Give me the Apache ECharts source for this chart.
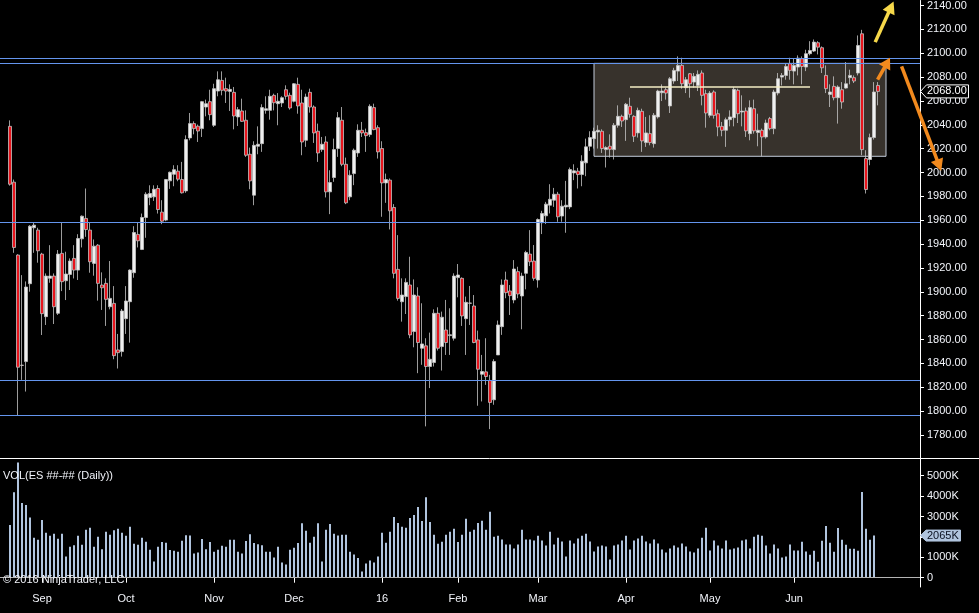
<!DOCTYPE html>
<html><head><meta charset="utf-8">
<script src="https://cdn.jsdelivr.net/npm/echarts@6/dist/echarts.min.js"></script>
<style>html,body{margin:0;padding:0;background:#000;overflow:hidden}#c{width:979px;height:613px}</style>
</head><body><div id="c"></div>
<script>
// ---- categories: trading days (ES ##-## Daily) ----
const dates = [
'2015-08-20','2015-08-21','2015-08-24','2015-08-25','2015-08-26','2015-08-27','2015-08-28','2015-08-31',
'2015-09-01','2015-09-02','2015-09-03','2015-09-04','2015-09-08','2015-09-09','2015-09-10','2015-09-11','2015-09-14','2015-09-15','2015-09-16','2015-09-17','2015-09-18','2015-09-21','2015-09-22','2015-09-23','2015-09-24','2015-09-25','2015-09-28','2015-09-29','2015-09-30',
'2015-10-01','2015-10-02','2015-10-05','2015-10-06','2015-10-07','2015-10-08','2015-10-09','2015-10-12','2015-10-13','2015-10-14','2015-10-15','2015-10-16','2015-10-19','2015-10-20','2015-10-21','2015-10-22','2015-10-23','2015-10-26','2015-10-27','2015-10-28','2015-10-29','2015-10-30',
'2015-11-02','2015-11-03','2015-11-04','2015-11-05','2015-11-06','2015-11-09','2015-11-10','2015-11-11','2015-11-12','2015-11-13','2015-11-16','2015-11-17','2015-11-18','2015-11-19','2015-11-20','2015-11-23','2015-11-24','2015-11-25','2015-11-27','2015-11-30',
'2015-12-01','2015-12-02','2015-12-03','2015-12-04','2015-12-07','2015-12-08','2015-12-09','2015-12-10','2015-12-11','2015-12-14','2015-12-15','2015-12-16','2015-12-17','2015-12-18','2015-12-21','2015-12-22','2015-12-23','2015-12-24','2015-12-28','2015-12-29','2015-12-30','2015-12-31',
'2016-01-04','2016-01-05','2016-01-06','2016-01-07','2016-01-08','2016-01-11','2016-01-12','2016-01-13','2016-01-14','2016-01-15','2016-01-19','2016-01-20','2016-01-21','2016-01-22','2016-01-25','2016-01-26','2016-01-27','2016-01-28','2016-01-29',
'2016-02-01','2016-02-02','2016-02-03','2016-02-04','2016-02-05','2016-02-08','2016-02-09','2016-02-10','2016-02-11','2016-02-12','2016-02-16','2016-02-17','2016-02-18','2016-02-19','2016-02-22','2016-02-23','2016-02-24','2016-02-25','2016-02-26','2016-02-29',
'2016-03-01','2016-03-02','2016-03-03','2016-03-04','2016-03-07','2016-03-08','2016-03-09','2016-03-10','2016-03-11','2016-03-14','2016-03-15','2016-03-16','2016-03-17','2016-03-18','2016-03-21','2016-03-22','2016-03-23','2016-03-24','2016-03-28','2016-03-29','2016-03-30','2016-03-31',
'2016-04-01','2016-04-04','2016-04-05','2016-04-06','2016-04-07','2016-04-08','2016-04-11','2016-04-12','2016-04-13','2016-04-14','2016-04-15','2016-04-18','2016-04-19','2016-04-20','2016-04-21','2016-04-22','2016-04-25','2016-04-26','2016-04-27','2016-04-28','2016-04-29',
'2016-05-02','2016-05-03','2016-05-04','2016-05-05','2016-05-06','2016-05-09','2016-05-10','2016-05-11','2016-05-12','2016-05-13','2016-05-16','2016-05-17','2016-05-18','2016-05-19','2016-05-20','2016-05-23','2016-05-24','2016-05-25','2016-05-26','2016-05-27','2016-05-31',
'2016-06-01','2016-06-02','2016-06-03','2016-06-06','2016-06-07','2016-06-08','2016-06-09','2016-06-10','2016-06-13','2016-06-14','2016-06-15','2016-06-16','2016-06-17','2016-06-20','2016-06-21','2016-06-22','2016-06-23','2016-06-24','2016-06-27','2016-06-28','2016-06-29','2016-06-30'
];

// ---- OHLC values ----
const open = [
2038.7,1991.9,1930.8,1838.5,1841.5,1906.8,1953.7,1951.7,1931.6,1879.2,1911.3,1913.2,1882.0,1932.2,1909.3,1914.6,1928.0,1918.2,1944.4,1961.5,
1951.7,1923.8,1939.1,1905.7,1907.1,1887.5,1890.3,1851.3,1849.9,1877.5,1891.7,1916.0,1948.1,1935.5,1962.3,1979.0,1979.6,1986.6,1966.8,1960.1,
1993.0,1998.5,2001.1,1994.1,1984.6,2029.0,2041.0,2038.8,2036.8,2054.9,2059.4,2039.6,2068.3,2077.2,2070.3,2068.0,2067.2,2046.6,2051.6,2043.8,
2015.3,1981.0,2022.0,2024.2,2052.1,2052.1,2064.7,2057.7,2058.3,2069.4,2064.7,2059.7,2073.9,2058.3,2027.0,2067.2,2054.9,2034.6,2019.2,2025.6,
1983.8,1995.8,2020.1,2043.8,2006.9,1979.6,1999.1,2016.4,2035.4,2033.4,2031.8,2054.4,2037.6,2020.1,1991.3,1993.6,1970.7,1918.8,1891.7,1896.0,
1905.7,1866.7,1896.5,1852.7,1854.7,1837.4,1840.7,1882.0,1854.1,1868.0,1863.3,1861.1,1911.9,1911.3,1877.5,1890.4,1888.1,1859.7,1830.9,1832.9,
1825.7,1809.5,1847.1,1870.8,1909.9,1900.7,1893.2,1916.9,1896.5,1915.5,1931.6,1925.8,1909.9,1957.9,1963.7,1972.6,1976.8,1981.8,1963.5,1971.2,
1971.2,1999.7,2001.1,1998.3,2008.1,2022.0,2028.4,2034.0,2034.6,2019.2,2022.0,2019.2,2039.6,2047.1,2044.3,2055.5,2047.1,2033.2,2051.3,2025.1,
2032.6,2024.2,2046.6,2066.9,2069.4,2055.8,2076.7,2085.0,2089.8,2071.1,2082.8,2075.8,2073.0,2083.4,2066.1,2047.9,2067.5,2049.3,2038.7,2035.4,
2044.3,2046.0,2068.9,2050.7,2051.6,2032.6,2053.5,2033.5,2035.4,2029.8,2045.2,2036.8,2066.6,2080.0,2081.4,2091.2,2085.0,2088.4,2095.4,2088.4,
2099.6,2101.8,2108.8,2104.6,2081.4,2065.5,2072.2,2062.7,2069.4,2070.8,2079.5,2079.5,2083.4,2116.3,2011.7,2010.9,2029.3,2073.0
];
const high = [
2043.7,1994.1,1931.5,1914.0,1908.7,1955.9,1957.8,1953.7,1932.7,1915.4,1939.1,1915.4,1935.0,1957.8,1933.6,1928.0,1939.1,1948.3,1964.0,1986.6,
1957.8,1943.9,1940.0,1916.3,1911.3,1925.8,1904.8,1864.7,1885.6,1904.8,1918.8,1955.0,1958.4,1965.6,1983.5,1989.3,1989.3,1989.3,1976.8,1994.6,
2000.8,2006.1,2006.1,2008.9,2031.2,2049.9,2042.9,2040.2,2060.0,2061.1,2069.4,2074.4,2084.8,2084.8,2079.5,2073.9,2071.7,2054.9,2061.9,2052.1,
2020.9,2026.2,2038.7,2057.2,2063.9,2069.4,2066.1,2066.6,2063.9,2073.1,2066.9,2075.0,2079.5,2069.4,2066.1,2070.3,2056.3,2041.0,2029.8,2030.4,
2001.9,2028.4,2050.7,2054.9,2012.5,2001.9,2020.1,2040.4,2042.4,2036.8,2057.2,2057.7,2039.6,2026.2,1999.1,1995.0,1973.5,1947.5,1911.3,1911.3,
1929.4,1910.4,1903.8,1890.4,1861.1,1865.8,1885.3,1887.0,1883.4,1893.2,1886.2,1915.5,1923.3,1912.1,1896.0,1904.9,1897.3,1867.5,1847.1,1861.1,
1830.4,1843.5,1875.9,1910.4,1916.9,1905.7,1926.6,1921.0,1916.0,1934.4,1951.7,1939.2,1961.5,1967.9,1975.4,1990.2,1987.1,1983.8,1976.8,1993.0,
2004.2,2006.9,2003.9,2014.5,2028.4,2034.6,2037.6,2039.6,2036.2,2022.0,2032.0,2041.5,2056.3,2048.5,2058.3,2062.7,2048.0,2054.4,2053.5,2046.6,
2048.0,2049.9,2069.4,2073.9,2071.1,2080.0,2087.8,2097.3,2096.2,2080.0,2083.4,2083.4,2085.6,2085.6,2069.4,2068.3,2068.9,2052.7,2042.4,2046.0,
2052.1,2071.7,2070.3,2064.7,2054.4,2060.5,2061.1,2049.3,2036.8,2044.3,2046.6,2069.4,2083.4,2083.4,2091.7,2096.2,2095.4,2098.2,2097.3,2102.9,
2110.1,2111.5,2110.1,2105.7,2089.8,2073.9,2080.6,2073.1,2075.8,2092.6,2086.2,2081.4,2114.9,2119.6,2018.7,2032.6,2075.8,2075.8
];
const low = [
1989.0,1932.7,1796.6,1826.2,1816.4,1900.1,1932.7,1924.4,1863.8,1872.2,1907.6,1873.0,1880.6,1900.6,1893.1,1901.5,1911.2,1909.9,1937.2,1946.1,
1916.0,1913.5,1892.6,1884.8,1871.4,1885.3,1843.5,1835.7,1845.7,1864.7,1857.4,1911.8,1937.2,1935.0,1945.3,1972.6,1976.2,1965.6,1956.7,1959.2,
1986.3,1988.5,1992.7,1982.4,1983.0,2027.0,2032.0,2025.6,2029.8,2047.1,2043.8,2038.2,2063.9,2064.7,2058.3,2051.6,2036.2,2039.0,2042.4,2013.1,
1986.0,1972.6,2015.3,2017.3,2049.3,2044.3,2052.1,2039.6,2054.9,2061.1,2052.7,2058.8,2049.3,2014.5,2021.5,2050.2,2024.8,2008.9,2017.3,1979.1,
1965.1,1992.2,2013.1,2005.3,1973.5,1976.8,1989.4,2013.1,2029.8,2017.3,2029.8,2035.4,2011.7,1962.9,1974.6,1952.3,1911.3,1892.6,1875.0,1881.4,
1861.1,1853.5,1831.8,1838.8,1787.2,1819.3,1837.4,1850.8,1834.0,1847.1,1847.1,1859.1,1895.4,1871.4,1847.1,1872.2,1856.9,1804.5,1808.1,1822.0,
1784.9,1805.3,1847.1,1863.9,1894.6,1880.6,1890.4,1894.6,1868.6,1902.1,1921.6,1909.3,1903.5,1948.4,1956.8,1965.7,1971.2,1958.7,1958.7,1949.5,
1969.3,1993.6,1986.6,1988.5,1996.9,2018.1,2020.1,2020.1,2016.4,2004.2,2012.5,2010.9,2037.6,2038.2,2026.5,2046.0,2025.6,2029.3,2017.3,2021.5,
2022.8,2020.9,2045.2,2059.9,2061.1,2049.9,2074.4,2076.7,2070.3,2066.6,2062.7,2071.1,2068.3,2056.3,2037.6,2046.0,2045.2,2030.4,2030.4,2021.5,
2038.7,2038.7,2041.5,2038.7,2029.8,2027.0,2032.6,2022.0,2013.6,2028.4,2035.4,2032.1,2064.7,2073.0,2077.8,2077.8,2073.9,2081.4,2073.9,2085.0,
2098.2,2101.0,2099.0,2083.4,2066.6,2054.9,2060.5,2041.0,2053.5,2070.3,2073.9,2075.0,2081.4,2014.5,1982.4,2006.1,2027.6,2056.3
];
const close = [
1990.2,1937.2,1836.8,1838.3,1904.0,1955.0,1955.9,1934.4,1881.7,1913.2,1913.2,1887.5,1931.6,1908.5,1914.9,1925.8,1918.2,1944.7,1963.4,1952.2,
1925.2,1938.3,1907.1,1903.4,1893.7,1894.5,1846.5,1849.0,1883.9,1892.3,1918.2,1949.7,1942.8,1962.3,1981.8,1982.4,1986.0,1969.0,1959.2,1994.1,
2000.2,2002.4,1994.4,1983.0,2027.6,2041.0,2036.8,2034.8,2059.4,2057.7,2048.5,2070.3,2077.8,2068.9,2068.3,2069.7,2047.4,2052.7,2042.9,2014.5,
1993.0,2022.8,2023.7,2054.4,2053.5,2063.9,2058.5,2059.7,2062.7,2063.9,2054.1,2074.4,2055.8,2025.6,2063.3,2054.9,2033.2,2016.4,2023.7,1983.8,
1991.6,2019.2,2046.0,2006.9,1974.6,1997.7,2018.7,2035.4,2033.2,2030.9,2055.5,2036.0,2017.3,1991.3,1994.1,1967.9,1915.5,1894.5,1897.3,1907.9,
1863.9,1897.3,1857.5,1856.3,1837.4,1843.5,1882.0,1852.7,1878.7,1857.5,1864.0,1913.2,1914.1,1879.8,1891.2,1890.6,1857.5,1835.1,1833.2,1829.0,
1807.3,1841.6,1872.2,1905.7,1899.3,1896.8,1919.1,1898.2,1913.2,1933.0,1925.2,1911.3,1960.6,1965.7,1973.5,1977.6,1981.8,1962.9,1971.8,1972.6,
2002.5,2001.4,1998.3,2009.5,2021.5,2029.3,2034.6,2035.4,2020.1,2020.9,2019.5,2039.6,2047.1,2043.2,2057.2,2048.8,2030.4,2052.1,2026.5,2033.2,
2025.1,2048.0,2068.3,2068.3,2066.6,2078.6,2085.6,2089.8,2074.4,2077.8,2074.4,2080.6,2082.3,2064.7,2049.9,2066.6,2047.9,2038.2,2035.4,2044.3,
2046.6,2069.7,2049.3,2051.5,2034.9,2054.4,2034.9,2035.4,2029.8,2041.5,2036.8,2067.5,2078.6,2081.4,2088.9,2085.6,2089.8,2095.9,2088.9,2099.6,
2102.3,2109.3,2105.1,2087.8,2070.3,2067.5,2062.7,2071.7,2059.1,2074.4,2081.4,2076.7,2106.5,2019.2,1985.8,2029.3,2067.5,2068.0
];
// ---- Volume in thousands of contracts; the last session has no volume bar ----
const volumeK = [
2589,4191,5650,3657,3560,2945,1958,1861,2832,2201,2055,2152,1909,2152,1036,1521,1586,2055,1618,2346,
2443,1521,2006,1392,2249,2104,2330,2395,2201,2055,2492,1667,1618,1958,1764,1375,793,1521,1748,1715,
1359,1327,1278,1812,2087,2071,1181,1230,1893,1392,1748,1278,1375,1570,1521,1861,1861,1278,1181,1796,
2136,1699,1634,1586,1278,1278,987,1521,744,647,1375,1472,1699,2670,2298,1715,2006,2670,793,2346,
2638,2152,2071,2104,2104,1278,1133,971,307,696,841,744,1036,2201,1715,2249,2977,2686,2492,2443,
2929,3074,3463,2783,3948,2735,2104,1667,1760,2100,2250,2403,1753,2110,2890,2256,2354,2679,2792,2354,
3231,2013,2062,1867,1623,1623,1429,1623,2354,1867,1867,1818,2062,1818,1575,2256,1623,1964,1769,1039,
1818,1672,1916,2062,2159,1769,1282,1526,1575,1526,893,1575,1623,1818,2062,1380,1818,1916,2062,1769,
1672,1867,1672,1380,1234,1429,1575,1477,1672,1526,1282,1234,1429,1964,2451,1331,1818,1575,1429,1818,
1380,1429,1477,1818,1867,1429,2013,2110,2062,1575,1185,1623,1429,990,1039,1623,1331,1331,1760,1280,
1120,1320,780,1810,2540,1710,1270,2440,1860,1610,1420,1420,1320,4200,2395,1856,2065
];

// ---- axis tick values ----
const priceTicks = [1780,1800,1820,1840,1860,1880,1900,1920,1940,1960,1980,2000,2020,2040,2060,2080,2100,2120,2140];
const volumeTicks = [0,1000000,2000000,3000000,4000000,5000000];
const monthNames = ['Jan','Feb','Mar','Apr','May','Jun','Jul','Aug','Sep','Oct','Nov','Dec'];

// ---- drawn annotations (price levels, box, arrows), in bar index / price ----
const levelPrices = [2096.2, 2091.5, 1958.7, 1826.2, 1796.9];
const boxBars = [146, 219];           // left / right bar index
const boxPrices = [2091.5, 2013.6];   // top / bottom price
const midLineBars = [155, 200];
const midLinePrice = 2072.2;
const arrowYellow = [[216.3, 2109.3], [220.9, 2143.3]];
const arrowUp = [[216.9, 2077.8], [220.0, 2096.2]];
const arrowDown = [[222.9, 2088.9], [232.8, 2001.3]];

// ---- build ----
const PAD_L = 2, PAD_R = 10;
const cats = [];
for (let i = 0; i < PAD_L; i++) cats.push('padL' + i);
dates.forEach(d => cats.push(d));
for (let i = 0; i < PAD_R; i++) cats.push('padR' + i);

function isMonthStart(idx) {
  const d = cats[idx];
  const p = cats[idx - 1];
  if (!d || !p || d.indexOf('pad') === 0 || p.indexOf('pad') === 0) return false;
  return d.slice(5, 7) !== p.slice(5, 7);
}
function monthLabel(d) {
  const m = parseInt(d.slice(5, 7), 10);
  return m === 1 ? d.slice(2, 4) : monthNames[m - 1];
}

// candlestick item: [open, close, lowest, highest]; '-' for padding slots
const candleData = cats.map((c, k) => {
  const i = k - PAD_L;
  if (i < 0 || i >= dates.length) return '-';
  return [open[i], close[i], low[i], high[i]];
});
const volData = cats.map((c, k) => {
  const i = k - PAD_L;
  if (i < 0 || i >= volumeK.length) return '-';
  return volumeK[i] * 1000;
});

const FONT = 'Liberation Sans, Arial, sans-serif';
const TXT = '#f2f4fa';
const LVL = '#6495ED';

const chart = echarts.init(document.getElementById('c'), null, {renderer: 'canvas'});

const option = {
  backgroundColor: '#000',
  animation: false,
  grid: [
    {left: 0, width: 920, top: 0, height: 458},
    {left: 0, width: 920, top: 458, height: 129}
  ],
  xAxis: [
    {type: 'category', gridIndex: 0, data: cats, boundaryGap: true,
     axisLine: {show: false}, axisTick: {show: false}, axisLabel: {show: false}, splitLine: {show: false}},
    {type: 'category', gridIndex: 1, data: cats, boundaryGap: true,
     axisLine: {show: true, lineStyle: {color: '#ffffff', width: 1}},
     axisTick: {show: true, alignWithLabel: true, length: 5, interval: (i) => isMonthStart(i), lineStyle: {color: '#ffffff'}},
     axisLabel: {show: true, interval: (i) => isMonthStart(i), formatter: (v) => monthLabel(v),
                 color: TXT, fontSize: 11, fontFamily: FONT, margin: 6},
     splitLine: {show: false}}
  ],
  yAxis: [
    {type: 'value', gridIndex: 0, position: 'right', min: 1760.7, max: 2144.2,
     axisLine: {show: true, lineStyle: {color: '#ffffff', width: 1}},
     axisTick: {show: true, length: 4, customValues: priceTicks, lineStyle: {color: '#ffffff'}},
     axisLabel: {show: true, customValues: priceTicks, formatter: (v) => v.toFixed(2),
                 color: TXT, fontSize: 11, fontFamily: FONT, margin: 7},
     splitLine: {show: false}},
    {type: 'value', gridIndex: 1, position: 'right', min: -456000, max: 5868000,
     axisLine: {show: true, lineStyle: {color: '#ffffff', width: 1}},
     axisTick: {show: true, length: 4, customValues: volumeTicks, lineStyle: {color: '#ffffff'}},
     axisLabel: {show: true, customValues: volumeTicks, formatter: (v) => v === 0 ? '0' : (v / 1000) + 'K',
                 color: TXT, fontSize: 11, fontFamily: FONT, margin: 7},
     splitLine: {show: false}}
  ],
  series: [
    {
      name: 'box', type: 'line', xAxisIndex: 0, yAxisIndex: 0, data: [], z: 0,
      markArea: {
        silent: true,
        itemStyle: {color: '#37322c', borderColor: '#c4ccda', borderWidth: 1},
        data: [[{coord: [boxBars[0] + PAD_L, boxPrices[0]]}, {coord: [boxBars[1] + PAD_L, boxPrices[1]]}]]
      }
    },
    {
      name: 'ES', type: 'candlestick', xAxisIndex: 0, yAxisIndex: 0, z: 3, clip: true,
      data: candleData, barWidth: 3,
      itemStyle: {color: '#f0f0f0', color0: '#e8141c', borderColor: '#c4c4c4', borderColor0: '#c4c4c4', borderColorDoji: '#c4c4c4', borderWidth: 0.8},
      markLine: {
        silent: true, symbol: ['none', 'none'], label: {show: false},
        data: levelPrices.map(p => ({yAxis: p, lineStyle: {color: LVL, width: 1, type: 'solid'}})).concat([
          [{coord: [midLineBars[0] + PAD_L, midLinePrice], lineStyle: {color: '#f4eec4', width: 1.5, type: 'solid'}},
           {coord: [midLineBars[1] + PAD_L, midLinePrice]}]
        ])
      }
    },
    {
      name: 'VOL', type: 'bar', xAxisIndex: 1, yAxisIndex: 1,
      data: volData, barWidth: 2, itemStyle: {color: '#b0c4de'},
      markLine: {
        silent: true, symbol: ['none', 'none'], label: {show: false},
        data: [{yAxis: 0, lineStyle: {color: '#b4b4b4', width: 1, type: 'solid'}}]
      }
    }
  ]
};
chart.setOption(option);

// ---- overlay: separator, texts, last-value markers, arrows ----
function px(barIdx, price) {
  const a = chart.convertToPixel({gridIndex: 0}, [PAD_L, price]);
  const b = chart.convertToPixel({gridIndex: 0}, [PAD_L + 1, price]);
  return [a[0] + (b[0] - a[0]) * barIdx, a[1]];
}
function arrow(seg, color, w, headLen, headHalf) {
  const s = px(seg[0][0], seg[0][1]);
  const t = px(seg[1][0], seg[1][1]);
  const dx = t[0] - s[0], dy = t[1] - s[1];
  const L = Math.sqrt(dx * dx + dy * dy);
  const ux = dx / L, uy = dy / L, nx = -uy, ny = ux;
  const bx = t[0] - ux * headLen, by = t[1] - uy * headLen;
  return [
    {type: 'line', z: 50, shape: {x1: s[0], y1: s[1], x2: bx + ux * 1, y2: by + uy * 1},
     style: {stroke: color, lineWidth: w, lineCap: 'butt'}},
    {type: 'polygon', z: 50, shape: {points: [[t[0], t[1]], [bx + nx * headHalf, by + ny * headHalf], [bx - nx * headHalf, by - ny * headHalf]]},
     style: {fill: color}}
  ];
}
const gridRight = 920;
const lastClose = close[close.length - 1];
const lastVol = volumeK[volumeK.length - 1] * 1000;
const yLast = chart.convertToPixel({gridIndex: 0}, [PAD_L, lastClose])[1];
const yVol = chart.convertToPixel({gridIndex: 1}, [PAD_L, lastVol])[1];
const sepY = 458;

const g = [
  {type: 'line', z: 40, shape: {x1: 0, y1: sepY + 0.5, x2: 979, y2: sepY + 0.5}, style: {stroke: '#ffffff', lineWidth: 1}},
  {type: 'text', z: 40, left: 3, top: 470, style: {text: 'VOL(ES ##-## (Daily))', fill: TXT, font: '11px ' + FONT}},
  {type: 'text', z: 40, left: 3, top: 574, style: {text: '\u00A9 2016 NinjaTrader, LLC', fill: TXT, font: '11px ' + FONT}},
  {type: 'polygon', z: 45, shape: {points: [[gridRight + 0.5, yLast], [gridRight + 6.5, yLast - 6.5], [gridRight + 48.5, yLast - 6.5], [gridRight + 48.5, yLast + 6.5], [gridRight + 6.5, yLast + 6.5]]},
   style: {fill: '#000000', stroke: '#ffffff', lineWidth: 1}},
  {type: 'text', z: 46, x: gridRight + 7, y: yLast, style: {text: lastClose.toFixed(2), fill: '#ffffff', font: '11px ' + FONT, verticalAlign: 'middle'}},
  {type: 'polygon', z: 45, shape: {points: [[gridRight + 0.5, yVol], [gridRight + 6, yVol - 5.5], [gridRight + 40.5, yVol - 5.5], [gridRight + 40.5, yVol + 5.5], [gridRight + 6, yVol + 5.5]]},
   style: {fill: '#b0c4de', stroke: '#b0c4de', lineWidth: 1}},
  {type: 'text', z: 46, x: gridRight + 7, y: yVol, style: {text: (lastVol / 1000) + 'K', fill: '#0a1020', font: '11px ' + FONT, verticalAlign: 'middle'}}
].concat(arrow(arrowYellow, '#f6d84a', 3.5, 12, 6.5))
 .concat(arrow(arrowUp, '#f28a1e', 3.5, 11, 6.5))
 .concat(arrow(arrowDown, '#f28a1e', 3.5, 12, 6.5));

chart.setOption({graphic: g});
</script>
</body></html>
